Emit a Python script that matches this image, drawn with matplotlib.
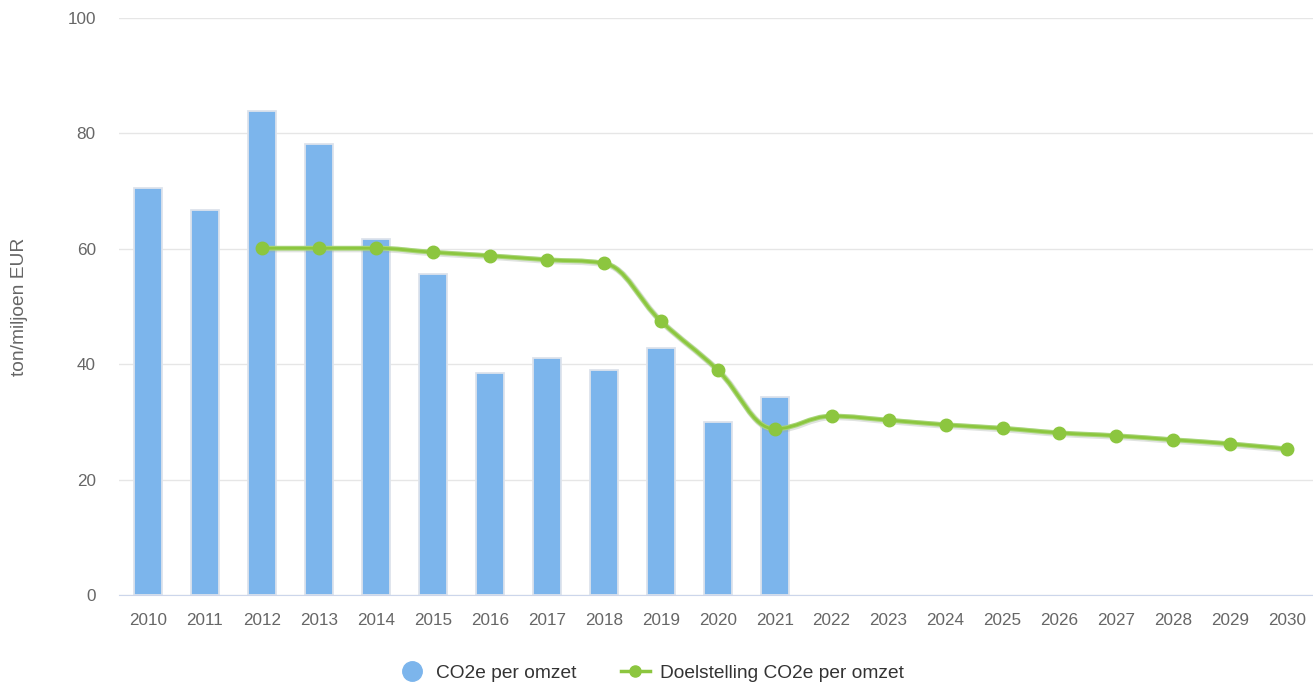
import matplotlib.pyplot as plt
import numpy as np
from matplotlib.path import Path
from matplotlib.patches import PathPatch
from matplotlib.lines import Line2D
from matplotlib import transforms

plt.rcParams['font.family'] = ['Liberation Sans', 'DejaVu Sans']

years = [str(y) for y in range(2010, 2031)]
co2 = [70.5, 66.7, 83.9, 78.2, 61.7, 55.6, 38.5, 41.1, 39.0, 42.8, 30.0, 34.3]
target_years = list(range(2, 21))
target = [60.1, 60.1, 60.1, 59.4, 58.8, 58.1, 57.5, 47.5, 39.0, 28.8,
          31.0, 30.3, 29.5, 28.9, 28.1, 27.6, 26.9, 26.2, 25.3]

bar_color = '#7cb5ec'
green = '#8cc63f'

def spline_path(xs, ys, smoothing=1.5):
    # highcharts style spline control points
    n = len(xs)
    left = [(xs[i], ys[i]) for i in range(n)]
    right = [(xs[i], ys[i]) for i in range(n)]
    denom = smoothing + 1
    for i in range(1, n - 1):
        px, py = xs[i], ys[i]
        lx, ly = xs[i - 1], ys[i - 1]
        nx, ny = xs[i + 1], ys[i + 1]
        lcx = (smoothing * px + lx) / denom
        lcy = (smoothing * py + ly) / denom
        rcx = (smoothing * px + nx) / denom
        rcy = (smoothing * py + ny) / denom
        if rcx != lcx:
            corr = (rcy - lcy) * (rcx - px) / (rcx - lcx) + py - rcy
            lcy += corr
            rcy += corr
        if lcy > ly and lcy > py:
            lcy = max(ly, py)
            rcy = 2 * py - lcy
        elif lcy < ly and lcy < py:
            lcy = min(ly, py)
            rcy = 2 * py - lcy
        if rcy > ny and rcy > py:
            rcy = max(ny, py)
            lcy = 2 * py - rcy
        elif rcy < ny and rcy < py:
            rcy = min(ny, py)
            lcy = 2 * py - rcy
        left[i] = (lcx, lcy)
        right[i] = (rcx, rcy)
    verts = [(xs[0], ys[0])]
    codes = [Path.MOVETO]
    for i in range(1, n):
        verts += [right[i - 1], left[i], (xs[i], ys[i])]
        codes += [Path.CURVE4] * 3
    return Path(verts, codes)

fig = plt.figure(figsize=(13.13, 6.84), dpi=100)
ax = fig.add_axes([0.091, 0.1301, 0.909, 0.8436])

x = np.arange(len(co2))
ax.bar(x, co2, width=0.49, color=bar_color, edgecolor='#dde3ec', linewidth=1.3, zorder=2)

path = spline_path(target_years, target)
off = transforms.ScaledTranslation(0.01, -0.01, fig.dpi_scale_trans)
ax.add_patch(PathPatch(path, facecolor='none', edgecolor='#9aa59a', lw=4.5, alpha=0.3,
                       zorder=3, transform=ax.transData + off))
ax.add_patch(PathPatch(path, facecolor='none', edgecolor='#a9d67a', lw=3.5, zorder=4))
ax.add_patch(PathPatch(path, facecolor='none', edgecolor=green, lw=2, zorder=4))
ax.plot(target_years, target, 'o', color=green, markersize=9, zorder=5)

ax.set_xlim(-0.5, 20.45)
ax.set_ylim(0, 100)
ax.set_yticks([0, 20, 40, 60, 80, 100])
ax.set_xticks(range(len(years)))
ax.set_xticklabels(years)
ax.grid(axis='y', color='#e6e6e6', linewidth=1, zorder=0)
ax.set_axisbelow(True)
for s in ['top', 'right', 'left']:
    ax.spines[s].set_visible(False)
ax.spines['bottom'].set_color('#ccd6eb')
ax.tick_params(axis='both', length=0, labelsize=12.3, colors='#666666')
ax.tick_params(axis='x', pad=13)
ax.tick_params(axis='y', pad=17)
ax.set_ylabel('ton/miljoen EUR', fontsize=13.8, color='#666666', labelpad=28)

handles = [Line2D([], [], marker='o', linestyle='none', color=bar_color, markersize=14),
           Line2D([], [], marker='o', color=green, lw=2.5, markersize=8)]
fig.legend(handles, ['CO2e per omzet', 'Doelstelling CO2e per omzet'], loc='center',
           bbox_to_anchor=(0.4955, 0.016), ncol=2, frameon=False, fontsize=13.8,
           labelcolor='#333333', handlelength=1.5, columnspacing=2.3, handletextpad=0.55)

fig.savefig('out.png', dpi=100)
